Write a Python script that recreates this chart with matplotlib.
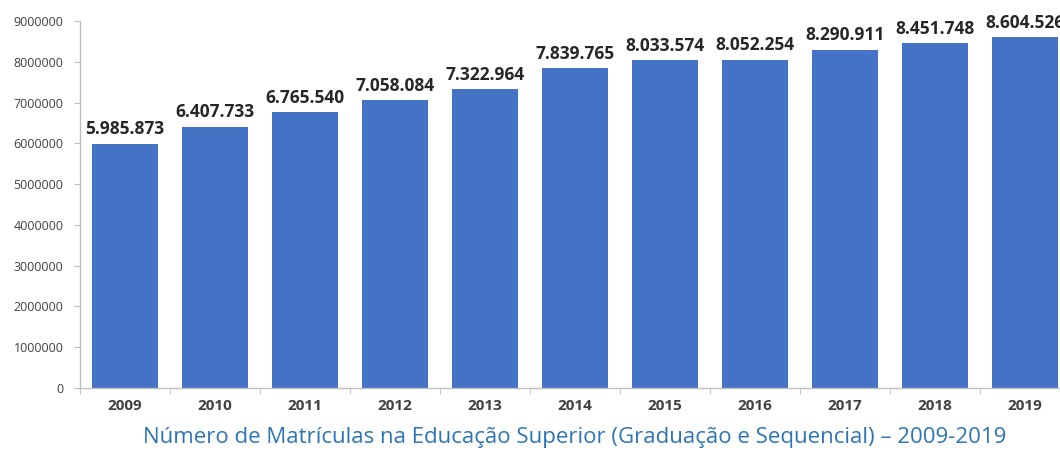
import numpy as np
import matplotlib.pyplot as plt
from matplotlib.ticker import FixedLocator, NullFormatter

# ========== 数据 ==========
years = ["2009", "2010", "2011", "2012", "2013", "2014", "2015", "2016", "2017", "2018", "2019"]
enrollments = [5985873, 6407733, 6765540, 7058084, 7322964, 7839765,
               8033574, 8052254, 8290911, 8451748, 8604526]
value_labels = ["5.985.873", "6.407.733", "6.765.540", "7.058.084", "7.322.964", "7.839.765",
                "8.033.574", "8.052.254", "8.290.911", "8.451.748", "8.604.526"]
title = "Número de Matrículas na Educação Superior (Graduação e Sequencial) – 2009-2019"

plt.rcParams['font.family'] = ['Open Sans', 'DejaVu Sans']

fig = plt.figure(figsize=(10.6, 4.51), dpi=100)
ax = fig.add_axes([80 / 1060, 1 - 388 / 451, 990 / 1060, (388 - 21) / 451])

x = np.arange(len(years))
bars = ax.bar(x, enrollments, width=0.74, color="#4472C4", zorder=2)

for b, lab in zip(bars, value_labels):
    ax.annotate(lab, (b.get_x() + b.get_width() / 2, b.get_height()),
                xytext=(0, 4), textcoords="offset points",
                ha="center", va="bottom", fontsize=12.5, fontweight="bold",
                color="#262626", annotation_clip=False)

ax.set_xlim(-0.5, len(years) - 0.5)
ax.set_ylim(0, 9000000)
ax.set_yticks(np.arange(0, 9000001, 1000000))
ax.set_yticklabels([str(v) for v in range(0, 9000001, 1000000)], fontsize=9, color="#404040")

ax.set_xticks(x)
ax.set_xticklabels(years, fontsize=11, fontweight="bold", color="#404040")
ax.tick_params(axis="x", which="major", length=0, pad=8)
ax.xaxis.set_minor_locator(FixedLocator(np.arange(-0.5, len(years), 1.0)))
ax.xaxis.set_minor_formatter(NullFormatter())
ax.tick_params(axis="x", which="minor", length=4, color="#BFBFBF")
ax.tick_params(axis="y", length=4, color="#BFBFBF", pad=8)

for s in ["top", "right"]:
    ax.spines[s].set_visible(False)
for s in ["left", "bottom"]:
    ax.spines[s].set_color("#BFBFBF")
    ax.spines[s].set_linewidth(1)

fig.text(575 / 1060, 1 - 438 / 451, title, ha="center", va="center",
         fontsize=16, color="#2E75B6")

fig.savefig("out.png", dpi=100)
